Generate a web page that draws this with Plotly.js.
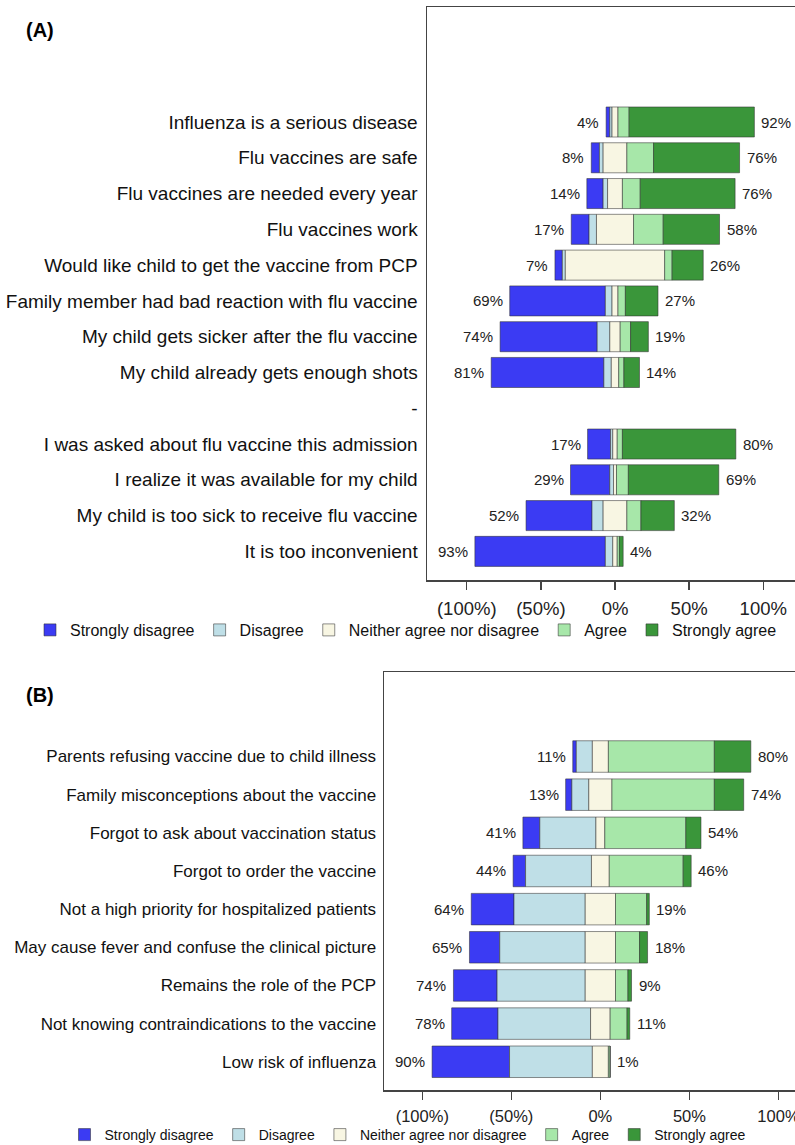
<!DOCTYPE html>
<html><head><meta charset="utf-8">
<script src="https://cdn.plot.ly/plotly-3.0.1.min.js"></script>
<style>html,body{margin:0;padding:0;background:#fff}</style>
</head><body><div id="chart" style="width:795px;height:1145px"></div>
<script>
// ---------- Data: panel A ----------
const catsA = [
  "Influenza is a serious disease",
  "Flu vaccines are safe",
  "Flu vaccines are needed every year",
  "Flu vaccines work",
  "Would like child to get the vaccine from PCP",
  "Family member had bad reaction with flu vaccine",
  "My child gets sicker after the flu vaccine",
  "My child already gets enough shots",
  "-",
  "I was asked about flu vaccine this admission",
  "I realize it was available for my child",
  "My child is too sick to receive flu vaccine",
  "It is too inconvenient"
];
const sdA = [2.5, 5.5, 11, 12, 5, 64.5, 65.5, 76, null, 15.5, 26.5, 44.5, 88];
const dA  = [1.5, 2.5, 3, 5, 2, 4.5, 8.5, 5, null, 1.5, 2.5, 7.5, 5];
const nA  = [4, 16, 10, 25, 67, 4, 7, 5, null, 3, 2, 16, 3];
const aA  = [7.5, 18, 12, 20, 5, 5, 7, 3.5, null, 3.5, 8, 9.5, 1.5];
const saA = [84.5, 58, 64, 38, 21, 22, 12, 10.5, null, 76.5, 61, 22.5, 2.5];

// ---------- Data: panel B ----------
const catsB = [
  "Parents refusing vaccine due to child illness",
  "Family misconceptions about the vaccine",
  "Forgot to ask about vaccination status",
  "Forgot to order the vaccine",
  "Not a high priority for hospitalized patients",
  "May cause fever and confuse the clinical picture",
  "Remains the role of the PCP",
  "Not knowing contraindications to the vaccine",
  "Low risk of influenza"
];
const sdB = [2, 3.5, 9.5, 7, 24, 17, 24.5, 26, 43.5];
const dB  = [9, 9.5, 31.5, 37, 40, 48, 49.5, 52, 46.5];
const nB  = [9, 13, 5, 10, 17, 17, 17, 11, 9];
const aB  = [59.5, 57.5, 45.5, 41.5, 17.5, 13.5, 7, 9.5, 1];
const saB = [20.5, 16.5, 8.5, 4.5, 1.5, 4.5, 2, 1.5, 0];

const levelNames = ["Strongly disagree", "Disagree", "Neither agree nor disagree", "Agree", "Strongly agree"];
const tickVals = [-100, -50, 0, 50, 100];
const tickText = ["(100%)", "(50%)", "0%", "50%", "100%"];

// ---------- Styles ----------
const colors = ["#3b3bf3", "#bfdfe7", "#f8f6e3", "#a7e7a9", "#3a963a"];
const FONT = "Liberation Sans, Arial, sans-serif";
const W = 795, H = 1145;

const traces = [];
const annotations = [];

function panel(cats, sd, d, n, a, sa, xa, ya, legendId, barW, labelSize) {
  const segs = [sd, d, n, a, sa];
  const bases = [
    cats.map((_, i) => sd[i] == null ? null : -(sd[i] + d[i] + n[i] / 2)),
    cats.map((_, i) => d[i] == null ? null : -(d[i] + n[i] / 2)),
    cats.map((_, i) => n[i] == null ? null : -n[i] / 2),
    cats.map((_, i) => a[i] == null ? null : n[i] / 2),
    cats.map((_, i) => sa[i] == null ? null : n[i] / 2 + a[i])
  ];
  segs.forEach((vals, k) => {
    traces.push({
      type: "bar", orientation: "h",
      y: cats, x: vals, base: bases[k],
      name: levelNames[k],
      xaxis: xa, yaxis: ya, legend: legendId,
      width: barW,
      marker: { color: colors[k], line: { color: "rgba(50,50,50,0.55)", width: 1 } },
      hoverinfo: "skip"
    });
  });
  cats.forEach((c, i) => {
    if (sd[i] == null) return;
    const neg = sd[i] + d[i];
    const pos = a[i] + sa[i];
    annotations.push({
      xref: xa, yref: ya, x: -(neg + n[i] / 2), y: c,
      text: Math.round(neg) + "%", showarrow: false,
      xanchor: "right", xshift: -5, font: { size: labelSize, color: "#222", family: FONT }
    });
    annotations.push({
      xref: xa, yref: ya, x: n[i] / 2 + pos, y: c,
      text: Math.round(pos) + "%", showarrow: false,
      xanchor: "left", xshift: 5, font: { size: labelSize, color: "#222", family: FONT }
    });
  });
}

panel(catsA, sdA, dA, nA, aA, saA, "x", "y", "legend", 0.84, 15);
panel(catsB, sdB, dB, nB, aB, saB, "x2", "y2", "legend2", 0.826, 15);

annotations.push({ xref: "paper", yref: "paper", x: 24 / W, y: 1 - 30 / H, xanchor: "left", yanchor: "middle",
  text: "<b>(A)</b>", showarrow: false, font: { size: 20, color: "#000", family: FONT } });
annotations.push({ xref: "paper", yref: "paper", x: 24 / W, y: 1 - 695 / H, xanchor: "left", yanchor: "middle",
  text: "<b>(B)</b>", showarrow: false, font: { size: 20, color: "#000", family: FONT } });

const axLine = { showline: true, linecolor: "#444", linewidth: 1.5, showgrid: false, zeroline: false };

const layout = {
  width: W, height: H,
  margin: { l: 0, r: 0, t: 0, b: 0, autoexpand: false },
  paper_bgcolor: "#fff", plot_bgcolor: "#fff",
  font: { family: FONT, color: "#111" },
  barmode: "overlay",
  showlegend: true,
  xaxis: Object.assign({}, axLine, {
    domain: [427 / W, 1], range: [-126.8, 121.4], anchor: "y", mirror: true,
    tickvals: tickVals, ticktext: tickText, ticks: "outside", ticklen: 8, tickcolor: "#444", tickwidth: 1.5,
    ticklabelstandoff: 3, ticklabeloverflow: "allow",
    tickfont: { size: 18.5, color: "#222" }
  }),
  yaxis: Object.assign({}, axLine, {
    domain: [1 - 580 / H, 1 - 7 / H], anchor: "x", type: "category",
    categoryorder: "array", categoryarray: catsA, range: [12.8, -3.214],
    ticks: "", ticklabelstandoff: 4, tickfont: { size: 19, color: "#111" }
  }),
  xaxis2: Object.assign({}, axLine, {
    domain: [384 / W, 1], range: [-121.5, 109.3], anchor: "y2", mirror: true,
    tickvals: tickVals, ticktext: tickText, ticks: "outside", ticklen: 8, tickcolor: "#444", tickwidth: 1.5,
    ticklabelstandoff: 3, ticklabeloverflow: "allow",
    tickfont: { size: 16.5, color: "#222" }
  }),
  yaxis2: Object.assign({}, axLine, {
    domain: [1 - 1090 / H, 1 - 672 / H], anchor: "x2", type: "category",
    categoryorder: "array", categoryarray: catsB, range: [8.74, -2.215],
    ticks: "", ticklabelstandoff: 3, tickfont: { size: 17, color: "#111" }
  }),
  legend: {
    orientation: "h", x: 406 / W, xanchor: "center", y: 1 - 630 / H, yanchor: "middle",
    traceorder: "normal", font: { size: 16, color: "#111" }, bgcolor: "rgba(0,0,0,0)"
  },
  legend2: {
    orientation: "h", x: 408 / W, xanchor: "center", y: 1 - 1135 / H, yanchor: "middle",
    traceorder: "normal", font: { size: 14, color: "#111" }, bgcolor: "rgba(0,0,0,0)"
  },
  annotations: annotations
};

Plotly.newPlot("chart", traces, layout, { staticPlot: true, displayModeBar: false });
</script>
</body></html>
